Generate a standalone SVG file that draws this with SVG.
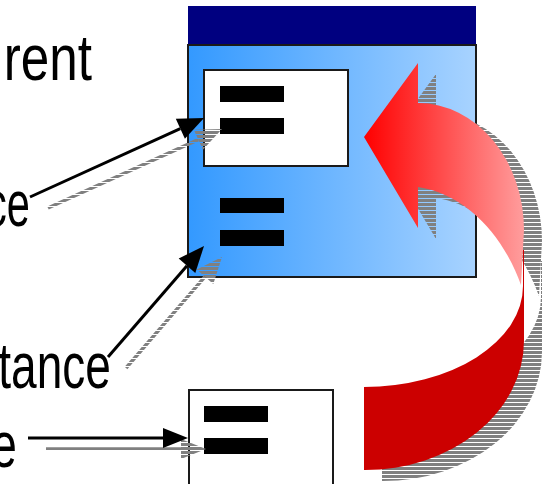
<svg xmlns="http://www.w3.org/2000/svg" width="547" height="484" viewBox="0 0 547 484">
  <defs>
    <style>
      .label { font-family: "Liberation Sans", Arial, sans-serif; font-size: 64px; fill: #000; }
      .frame { stroke: #1a1a1a; stroke-width: 2; }
      .bar { fill: #000; }
      .wire { stroke: #000; stroke-width: 3; fill: none; }
      .wire-head { fill: #000; }
      .shade-wire { stroke: url(#hatch); stroke-width: 3.5; fill: none; }
      .shade-fill { fill: url(#hatch); }
    </style>
    <!-- striped grey used for the drop shadows -->
    <pattern id="hatch" patternUnits="userSpaceOnUse" x="0" y="0" width="4" height="4">
      <rect x="0" y="0" width="4" height="3" fill="#808080"/>
    </pattern>
    <linearGradient id="panelFill" gradientUnits="userSpaceOnUse" x1="188" y1="0" x2="476" y2="0">
      <stop offset="0" stop-color="#3399FF"/>
      <stop offset="1" stop-color="#A8D3FF"/>
    </linearGradient>
    <linearGradient id="arrowFill" gradientUnits="userSpaceOnUse" x1="364" y1="0" x2="524" y2="0">
      <stop offset="0" stop-color="#FF0000"/>
      <stop offset="1" stop-color="#FF9D9D"/>
    </linearGradient>
    <!-- the two faces of the curved block arrow -->
    <path id="arrowBack" d="M364,387 A159,101 0 0 0 523,286 L523,250 L524,250 L524,341 A159,129.5 0 0 1 364,470 Z"/>
    <path id="arrowFront" d="M418,63 L364,137 L418,228 L418,187 C470,195 505,240 521,285 L524,230 A106,127 0 0 0 418,103 Z"/>
  </defs>

  <!-- parent window: title bar plus gradient client area -->
  <g id="parent-window">
    <rect x="188" y="6" width="288" height="39" fill="#000080"/>
    <rect x="188" y="45" width="288" height="232" fill="url(#panelFill)" class="frame"/>
    <rect class="bar" x="220" y="198" width="64" height="15"/>
    <rect class="bar" x="220" y="230" width="64" height="16"/>
  </g>

  <!-- child instance inside the parent -->
  <g id="child-instance">
    <rect x="204" y="70" width="144" height="96" fill="#fff" class="frame"/>
    <rect class="bar" x="220" y="86" width="64" height="16"/>
    <rect class="bar" x="220" y="118" width="64" height="16"/>
  </g>

  <!-- standalone instance at the bottom -->
  <g id="standalone-instance">
    <rect x="189" y="390" width="144" height="100" fill="#fff" class="frame"/>
    <rect class="bar" x="204" y="406" width="64" height="16"/>
    <rect class="bar" x="204" y="438" width="64" height="16"/>
  </g>

  <!-- curved block arrow looping from the bottom instance back into the parent -->
  <g id="return-arrow">
    <g class="shade-fill" transform="translate(18,11)">
      <use href="#arrowBack"/>
      <use href="#arrowFront"/>
    </g>
    <use href="#arrowBack" fill="#CC0000"/>
    <use href="#arrowFront" fill="url(#arrowFill)"/>
  </g>

  <!-- label pointers with their striped shadows -->
  <g id="connectors">
    <g transform="translate(18,11)">
      <path class="shade-wire" d="M30,197 L180.3,128.7"/>
      <polygon class="shade-fill" points="204,118 184.9,138.7 175.8,118.7"/>
      <path class="shade-wire" d="M108,357 L187,265.7"/>
      <polygon class="shade-fill" points="204,246 195.3,272.9 178.7,258.5"/>
      <path class="shade-wire" d="M28,438 L164,438"/>
      <polygon class="shade-fill" points="188,438 163,428 163,448"/>
    </g>
    <path class="wire" d="M30,197 L180.3,128.7"/>
    <polygon class="wire-head" points="204,118 184.9,138.7 175.8,118.7"/>
    <path class="wire" d="M108,357 L187,265.7"/>
    <polygon class="wire-head" points="204,246 195.3,272.9 178.7,258.5"/>
    <path class="wire" d="M28,438 L164,438"/>
    <polygon class="wire-head" points="188,438 163,428 163,448"/>
  </g>

  <!-- labels, cut off at the left edge -->
  <g id="labels">
    <text class="label" text-anchor="end" transform="translate(92,80) scale(0.8,1)">rent</text>
    <text class="label" text-anchor="end" transform="translate(30,226) scale(0.65,1)">ce</text>
    <text class="label" text-anchor="end" transform="translate(111,388) scale(0.72,1)">tance</text>
    <text class="label" text-anchor="end" transform="translate(17,467) scale(0.72,1)">e</text>
  </g>
</svg>
